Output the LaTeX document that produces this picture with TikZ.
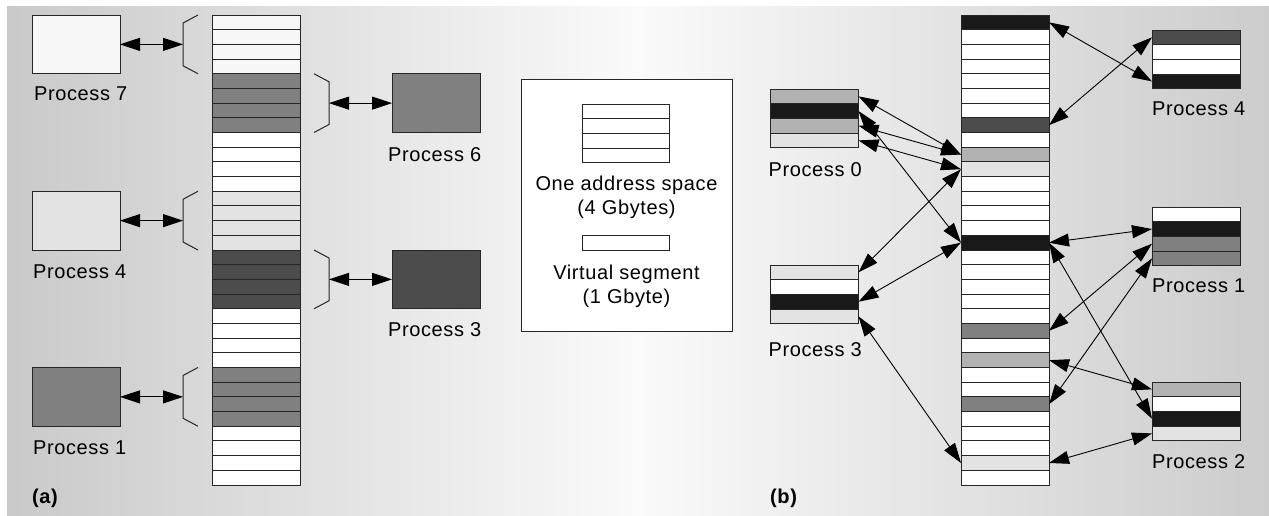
\documentclass[tikz,border=0pt]{standalone}
\usepackage{fontspec}
\setmainfont{Liberation Sans}[LetterSpace=3]
\usetikzlibrary{calc,arrows.meta}

\tikzset{
  seg/.style={draw=black!85, line width=1pt, minimum width=88pt, minimum height=14.6875pt, inner sep=0pt, outer sep=0pt},
  pbox/.style={draw=black!85, line width=1pt, minimum width=88pt, minimum height=58.75pt, inner sep=0pt, outer sep=0pt},
  lbl/.style={font=\fontsize{20}{24}\selectfont, text=black, inner sep=0pt},
  dbl/.style={{Triangle[length=20pt,width=13pt]}-{Triangle[length=20pt,width=13pt]}, line width=0.9pt, black},
  brk/.style={line width=1pt, black!85},
}

\begin{document}
\begin{tikzpicture}[x=1pt, y=-1pt]
\useasboundingbox (0,0) rectangle (1269,515);
\shade[left color=black!21, right color=black!20, middle color=black!2] (7,6) rectangle (1269,515);

% (a) one address space per process
\foreach \col [count=\i from 0] in {black!3,black!3,black!3,black!3,black!50,black!50,black!50,black!50,
  white,white,white,white,black!11,black!11,black!11,black!11,black!70,black!70,black!70,black!70,
  white,white,white,white,black!50,black!50,black!50,black!50,white,white,white,white}
  \node[seg, fill=\col] (a\i) at (256,{15+14.6875*(\i+0.5)}) {};

\node[pbox, fill=black!3]  (pa7) at ($(a1.south)+(-180,0)$) {};
\node[pbox, fill=black!50] (pa6) at ($(a5.south)+(180,0)$) {};
\node[pbox, fill=black!11] (pa4) at ($(a13.south)+(-180,0)$) {};
\node[pbox, fill=black!70] (pa3) at ($(a17.south)+(180,0)$) {};
\node[pbox, fill=black!50] (pa1) at ($(a25.south)+(-180,0)$) {};

\node[lbl, anchor=base west] (pa7t) at ($(pa7.south west)+(2,27)$) {Process 7};
\node[lbl, anchor=base west] (pa6t) at ($(pa6.south west)+(-4,29)$) {Process 6};
\node[lbl, anchor=base west] (pa4t) at ($(pa4.south west)+(1,28)$) {Process 4};
\node[lbl, anchor=base west] (pa3t) at ($(pa3.south west)+(-4,28)$) {Process 3};
\node[lbl, anchor=base west] (pa1t) at ($(pa1.south west)+(1,28)$) {Process 1};

% brackets
\coordinate (k7) at ($(a1.south west)+(-29,0)$);
\draw[brk] ($(a0.north west)+(-14,0)$) -- ($(a0.north west)+(-29,8)$) -- ($(a3.south west)+(-29,-8)$) -- ($(a3.south west)+(-14,0)$);
\coordinate (k6) at ($(a5.south east)+(29,0)$);
\draw[brk] ($(a4.north east)+(14,0)$) -- ($(a4.north east)+(29,8)$) -- ($(a7.south east)+(29,-8)$) -- ($(a7.south east)+(14,0)$);
\coordinate (k4) at ($(a13.south west)+(-29,0)$);
\draw[brk] ($(a12.north west)+(-14,0)$) -- ($(a12.north west)+(-29,8)$) -- ($(a15.south west)+(-29,-8)$) -- ($(a15.south west)+(-14,0)$);
\coordinate (k3) at ($(a17.south east)+(29,0)$);
\draw[brk] ($(a16.north east)+(14,0)$) -- ($(a16.north east)+(29,8)$) -- ($(a19.south east)+(29,-8)$) -- ($(a19.south east)+(14,0)$);
\coordinate (k1) at ($(a25.south west)+(-29,0)$);
\draw[brk] ($(a24.north west)+(-14,0)$) -- ($(a24.north west)+(-29,8)$) -- ($(a27.south west)+(-29,-8)$) -- ($(a27.south west)+(-14,0)$);

\draw[dbl] (pa7) -- (k7);
\draw[dbl] (k6) -- (pa6);
\draw[dbl] (pa4) -- (k4);
\draw[dbl] (k3) -- (pa3);
\draw[dbl] (pa1) -- (k1);

\node[lbl, font=\fontsize{20}{24}\selectfont\bfseries, anchor=base west] (capa) at (32,503) {(a)};

% key
\node[draw=black!85, line width=1pt, fill=white, minimum width=211pt, minimum height=252pt, inner sep=0pt] (key) at (626.5,205) {};
\foreach \i in {0,...,3}
  \node[seg, fill=white, minimum width=87pt] (k\i) at (625.5,{104+14.6875*(\i+0.5)}) {};
\node[lbl, anchor=base] (keyt1) at (626.5,190) {One address space};
\node[lbl, anchor=base] (keyt2) at (626.5,214) {(4 Gbytes)};
\node[seg, fill=white, minimum width=87pt] (kv) at (625.5,243) {};
\node[lbl, anchor=base] (keyt3) at (626.5,279) {Virtual segment};
\node[lbl, anchor=base] (keyt4) at (626.5,303) {(1 Gbyte)};

% (b) segments shared between processes
\foreach \col [count=\i from 0] in {black!90,white,white,white,white,white,white,black!70,
  white,black!30,black!11,white,white,white,white,black!90,white,white,white,white,
  white,black!50,white,black!30,white,white,black!50,white,white,white,black!11,white}
  \node[seg, fill=\col] (b\i) at (1005,{15+14.6875*(\i+0.5)}) {};

\foreach \col [count=\i from 0] in {black!30,black!90,black!30,black!11}
  \node[seg, fill=\col] (pb0r\i) at (814.5,{89+14.6875*(\i+0.5)}) {};
\foreach \col [count=\i from 0] in {black!11,white,black!90,black!11}
  \node[seg, fill=\col] (pb3r\i) at (814.5,{265+14.6875*(\i+0.5)}) {};
\foreach \col [count=\i from 0] in {black!70,white,white,black!90}
  \node[seg, fill=\col] (pb4r\i) at (1196,{30+14.6875*(\i+0.5)}) {};
\foreach \col [count=\i from 0] in {white,black!90,black!50,black!50}
  \node[seg, fill=\col] (pb1r\i) at (1196,{207+14.6875*(\i+0.5)}) {};
\foreach \col [count=\i from 0] in {black!30,white,black!90,black!11}
  \node[seg, fill=\col] (pb2r\i) at (1196,{382+14.6875*(\i+0.5)}) {};

\node[lbl, anchor=base west] (pb0t) at ($(pb0r3.south west)+(-2,29)$) {Process 0};
\node[lbl, anchor=base west] (pb3t) at ($(pb3r3.south west)+(-2,33)$) {Process 3};
\node[lbl, anchor=base west] (pb4t) at ($(pb4r3.south west)+(0,27)$) {Process 4};
\node[lbl, anchor=base west] (pb1t) at ($(pb1r3.south west)+(0,27)$) {Process 1};
\node[lbl, anchor=base west] (pb2t) at ($(pb2r3.south west)+(0,28)$) {Process 2};

\draw[dbl] (pb0r0.east) -- (b9.west);
\draw[dbl] (pb0r1.east) -- (b15.west);
\draw[dbl] (pb0r2.east) -- (b9.west);
\draw[dbl] (pb0r3.east) -- (b10.west);
\draw[dbl] (pb3r0.east) -- (b10.west);
\draw[dbl] (pb3r2.east) -- (b15.west);
\draw[dbl] (pb3r3.east) -- (b30.west);
\draw[dbl] (b0.east) -- (pb4r3.west);
\draw[dbl] (b7.east) -- (pb4r0.west);
\draw[dbl] (b15.east) -- (pb1r1.west);
\draw[dbl] (b21.east) -- (pb1r2.west);
\draw[dbl] (b26.east) -- (pb1r3.west);
\draw[dbl] (b23.east) -- (pb2r0.west);
\draw[dbl] (b15.east) -- (pb2r2.west);
\draw[dbl] (b30.east) -- (pb2r3.west);

\node[lbl, font=\fontsize{20}{24}\selectfont\bfseries, anchor=base west] (capb) at (770,503) {(b)};
\end{tikzpicture}
\end{document}
